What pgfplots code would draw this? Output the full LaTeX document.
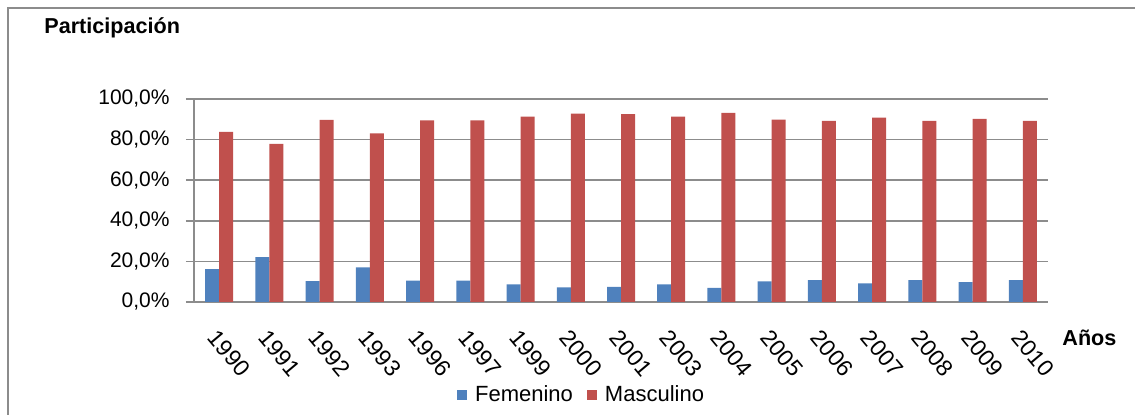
\documentclass[border=0pt]{standalone}
\usepackage{fontspec}
\setmainfont{Liberation Sans}
\usepackage{pgfplots}
\usepackage{pgfplotstable}
\pgfplotsset{compat=1.18}
\definecolor{fem}{HTML}{4F81BD}
\definecolor{mas}{HTML}{C0504D}
\definecolor{gridg}{HTML}{8C8C8C}

\pgfplotstableread{
idx anio fem  mas
0   1990 16.2 83.8
1   1991 22.1 77.9
2   1992 10.3 89.7
3   1993 17.0 83.0
4   1996 10.5 89.5
5   1997 10.5 89.5
6   1999 8.7  91.3
7   2000 7.2  92.8
8   2001 7.5  92.5
9   2003 8.7  91.3
10  2004 6.9  93.1
11  2005 10.2 89.8
12  2006 10.8 89.2
13  2007 9.2  90.8
14  2008 10.8 89.2
15  2009 9.8  90.2
16  2010 10.8 89.2
}\datos

\begin{document}
\begin{tikzpicture}
\useasboundingbox (0,0) rectangle (567.5pt,207.5pt);
\draw[gridg, line width=0.8pt] (4pt,0) -- (4pt,203.5pt) -- (567.5pt,203.5pt);
\begin{axis}[
  at={(97pt,56.5pt)}, anchor=south west,
  scale only axis, width=427pt, height=101.5pt,
  ybar=0pt, bar width=7pt,
  ymin=0, ymax=100, xmin=-0.5, xmax=16.5,
  xtick=data,
  xticklabels from table={\datos}{anio},
  ytick={0,20,...,100},
  /pgf/number format/assume math mode=true,
  yticklabel={\pgfmathprintnumber[fixed,fixed zerofill,precision=1,use comma]{\tick}\%},
  axis x line*=bottom, axis y line*=left,
  axis line style={gridg, line width=0.8pt, -},
  ymajorgrids, grid style={gridg, line width=0.8pt},
  xtick style={draw=none},
  ytick style={gridg, line width=0.8pt},
  tick align=outside, major tick length=4pt,
  yticklabel style={anchor=east, inner sep=0pt, xshift=-8pt,
    font=\fontsize{10.5pt}{12pt}\selectfont},
  xticklabel style={rotate=-50, anchor=north west, inner sep=0pt,
    font=\fontsize{11.5pt}{13pt}\selectfont},
  xticklabel shift=9pt,
  legend style={at={(0.455,-0.458)}, anchor=center, draw=none,
    legend columns=2, font=\fontsize{11pt}{12pt}\selectfont,
    /tikz/every odd column/.append style={column sep=2pt},
    /tikz/every even column/.append style={column sep=5pt}},
  legend image code/.code={\fill[#1] (0pt,-2.5pt) rectangle (5pt,2.5pt);},
]
\addplot[fill=fem, draw=none] table[x=idx, y=fem] {\datos};
\addplot[fill=mas, draw=none] table[x=idx, y=mas] {\datos};
\legend{Femenino, Masculino}
\end{axis}
\node[anchor=west, font=\fontsize{10.8pt}{12pt}\selectfont\bfseries, inner sep=0pt] at (22pt,193.5pt) {Participación};
\node[anchor=west, font=\fontsize{10.8pt}{12pt}\selectfont\bfseries, inner sep=0pt] at (531pt,38.5pt) {Años};
\end{tikzpicture}
\end{document}
